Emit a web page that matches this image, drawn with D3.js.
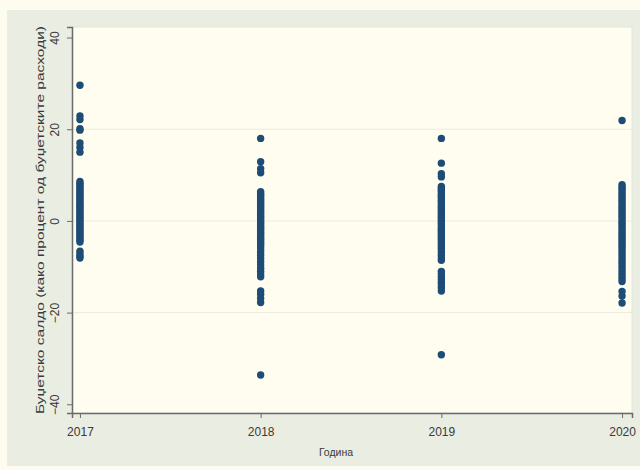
<!DOCTYPE html>
<html>
<head>
<meta charset="utf-8">
<script src="https://cdn.jsdelivr.net/npm/d3@7"></script>
<style>
  html, body { margin: 0; padding: 0; background: #fefcee; }
  svg { display: block; }
  text { font-family: "Liberation Sans", Arial, sans-serif; fill: #3a3a3a; }
</style>
</head>
<body>
<svg id="chart" width="640" height="470"></svg>
<script>
// Budget balance of municipalities by year (% of budget expenditure)
const years = [2017, 2018, 2019, 2020];

const balance2017 = [29.6, 22.9, 22.1, 20.1, 19.8, 17.0, 16.0, 15.0,
  8.6, 8.2, 7.8, 7.4, 7.0, 6.6, 6.2, 5.8, 5.4, 5.0, 4.6, 4.2, 3.8, 3.4, 3.0,
  2.6, 2.2, 1.8, 1.4, 1.0, 0.6, 0.2, -0.2, -0.6, -1.0, -1.4, -1.8, -2.2,
  -2.6, -3.0, -3.4, -3.8, -4.2, -4.6, -6.6, -7.2, -7.7, -8.1];

const balance2018 = [18.0, 12.9, 11.4, 10.5,
  6.4, 6.0, 5.6, 5.2, 4.8, 4.4, 4.0, 3.6, 3.2, 2.8, 2.4, 2.0, 1.6, 1.2, 0.8,
  0.4, 0.0, -0.4, -0.8, -1.2, -1.6, -2.0, -2.4, -2.8, -3.2, -3.6, -4.0, -4.4,
  -4.8, -5.2, -5.7, -6.3, -6.9, -7.5, -8.2, -8.9, -9.6, -10.3, -11.0, -11.6,
  -12.2, -15.3, -16.0, -16.9, -17.8, -33.6];

const balance2019 = [18.0, 12.6, 10.3, 9.6,
  7.5, 7.1, 6.7, 6.3, 5.8, 5.4, 5.0, 4.5, 4.1, 3.7, 3.2, 2.8, 2.4, 2.0, 1.6,
  1.2, 0.8, 0.4, 0.0, -0.4, -0.8, -1.3, -1.7, -2.1, -2.5, -3.0, -3.4, -3.9,
  -4.3, -4.8, -5.3, -5.8, -6.3, -6.9, -7.5, -8.1, -8.6,
  -11.0, -11.6, -12.2, -12.8, -13.4, -14.0, -14.6, -15.3, -29.2];

const balance2020 = [21.9,
  7.9, 7.4, 7.0, 6.5, 6.0, 5.5, 5.0, 4.5, 4.0, 3.5, 3.0, 2.5, 2.0, 1.5, 1.0,
  0.5, 0.0, -0.5, -1.0, -1.5, -2.0, -2.5, -3.0, -3.5, -4.0, -4.5, -5.0, -5.5,
  -6.0, -6.6, -7.2, -7.8, -8.4, -9.0, -9.6, -10.2, -10.8, -11.4, -12.0,
  -12.6, -13.2, -15.4, -16.4, -17.9];

const seriesByYear = [balance2017, balance2018, balance2019, balance2020];
const yTicks = [-40, -20, 0, 20, 40];
const gridValues = [-20, 0, 20];

const yTitle = "Буџетско салдо (како процент од буџетските расходи)";
const xTitle = "Година";

const svg = d3.select("#chart");

// graph region
svg.append("rect")
  .attr("x", 7).attr("y", 10).attr("width", 633).attr("height", 456)
  .attr("fill", "#e9ede2");

const plot = { left: 72, right: 632, top: 27, bottom: 413 };

const x = d3.scaleLinear()
  .domain([2016.956, 2020.055])
  .range([plot.left, plot.right]);

const y = d3.scaleLinear()
  .domain([-41.9, 42.3])
  .range([plot.bottom, plot.top]);

// plot region
svg.append("rect")
  .attr("x", plot.left).attr("y", plot.top)
  .attr("width", plot.right - plot.left).attr("height", plot.bottom - plot.top)
  .attr("fill", "#fffdf0")
  .attr("stroke", "#e4e6da").attr("stroke-width", 1);

// horizontal grid
svg.append("g").selectAll("line")
  .data(gridValues)
  .join("line")
  .attr("x1", plot.left).attr("x2", plot.right)
  .attr("y1", d => y(d)).attr("y2", d => y(d))
  .attr("stroke", "#ecebdc").attr("stroke-width", 1);

// y axis with rotated labels
const yAxis = svg.append("g")
  .attr("transform", `translate(${plot.left},0)`)
  .call(d3.axisLeft(y).tickValues(yTicks).tickSize(5).tickPadding(4).tickFormat(d3.format("d")));
yAxis.select(".domain").attr("stroke", "#6b6b6b").attr("stroke-width", 1.5);
yAxis.selectAll(".tick line").attr("stroke", "#6b6b6b").attr("stroke-width", 1);
yAxis.selectAll(".tick text")
  .attr("x", null).attr("dy", null)
  .attr("text-anchor", "middle")
  .attr("font-size", 12)
  .attr("transform", "translate(-13,0) rotate(-90)")
  .style("fill", "#3a3a3a");

// x axis
const xAxis = svg.append("g")
  .attr("transform", `translate(0,${plot.bottom})`)
  .call(d3.axisBottom(x).tickValues(years).tickSize(5).tickPadding(9).tickFormat(d3.format("d")));
xAxis.select(".domain").attr("stroke", "#6b6b6b").attr("stroke-width", 1.5);
xAxis.selectAll(".tick line").attr("stroke", "#6b6b6b").attr("stroke-width", 1);
xAxis.selectAll(".tick text")
  .attr("font-size", 12)
  .style("fill", "#3a3a3a");

// axis titles
svg.append("text")
  .attr("transform", `translate(40,${(plot.top + plot.bottom) / 2}) rotate(-90)`)
  .attr("text-anchor", "middle")
  .attr("dy", "0.35em")
  .attr("font-size", 10.5)
  .attr("textLength", 388)
  .attr("lengthAdjust", "spacingAndGlyphs")
  .text(yTitle);

svg.append("text")
  .attr("x", 336)
  .attr("y", 456)
  .attr("text-anchor", "middle")
  .attr("font-size", 10.5)
  .text(xTitle);

// markers
const points = years.flatMap((yr, i) => seriesByYear[i].map(v => ({ year: yr, value: v })));
svg.append("g").selectAll("circle")
  .data(points)
  .join("circle")
  .attr("cx", d => x(d.year))
  .attr("cy", d => y(d.value))
  .attr("r", 3.7)
  .attr("fill", "#1d4c76");
</script>
</body>
</html>
